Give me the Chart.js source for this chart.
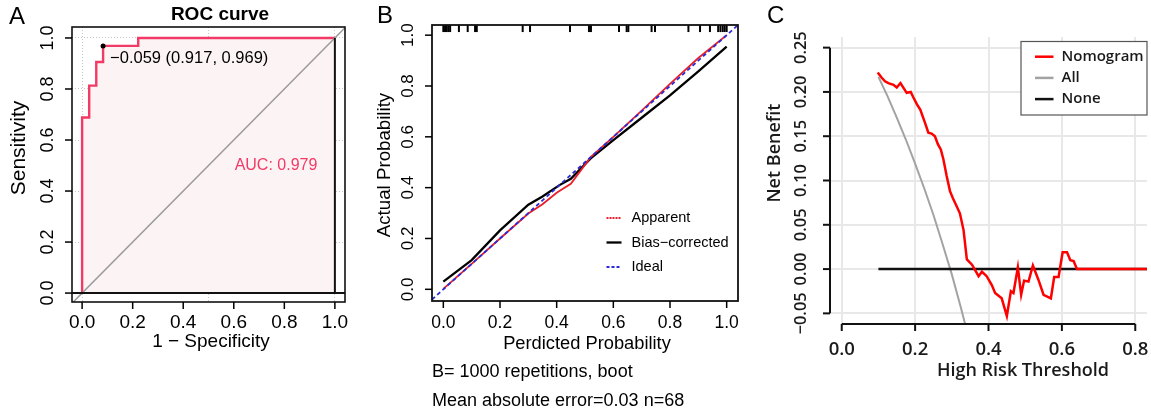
<!DOCTYPE html>
<html>
<head>
<meta charset="utf-8">
<script src="https://cdn.jsdelivr.net/npm/chart.js@4.4.1/dist/chart.umd.min.js"></script>
<style>
  html, body { margin: 0; padding: 0; background: #fff; }
  #wrap { position: relative; width: 1151px; height: 414px; overflow: hidden; }
  canvas { position: absolute; top: 0; }
</style>
</head>
<body>
<div id="wrap">
  <canvas id="rocChart" width="370" height="414" style="left:0px"></canvas>
  <canvas id="calChart" width="390" height="414" style="left:370px"></canvas>
  <canvas id="dcaChart" width="391" height="414" style="left:760px"></canvas>
</div>
<script>
// ---- Panel A: curva ROC ----
const rocFpr = [0, 0, 0.028, 0.028, 0.056, 0.056, 0.083, 0.083, 0.222, 0.222, 1];
const rocTpr = [0, 0.688, 0.688, 0.813, 0.813, 0.906, 0.906, 0.969, 0.969, 1, 1];
const rocTicks = [0, 0.2, 0.4, 0.6, 0.8, 1.0];
const rocBest = [0.083, 0.969];
const rocBestLabel = "\u22120.059 (0.917, 0.969)";
const rocAucLabel = "AUC: 0.979";

// ---- Panel B: calibracion ----
const calTicks = [0, 0.2, 0.4, 0.6, 0.8, 1.0];
const apparentX = [0, 0.1, 0.2, 0.3, 0.35, 0.4, 0.45, 0.48, 0.52, 0.6, 0.7, 0.8, 0.9, 1.0];
const apparentY = [0.002, 0.1, 0.2, 0.298, 0.335, 0.38, 0.415, 0.46, 0.52, 0.6, 0.703, 0.808, 0.91, 1.0];
const biasX = [0, 0.1, 0.2, 0.3, 0.35, 0.41, 0.45, 0.52, 0.6, 0.7, 0.8, 0.9, 1.0];
const biasY = [0.03, 0.115, 0.232, 0.333, 0.365, 0.41, 0.435, 0.515, 0.587, 0.675, 0.763, 0.858, 0.955];
const rugX = [0, 0.006, 0.012, 0.018, 0.024, 0.055, 0.086, 0.112, 0.118, 0.28, 0.306, 0.447, 0.514, 0.521,
              0.62, 0.647, 0.653, 0.735, 0.747, 0.865, 0.906, 0.941, 0.97, 0.978, 0.986, 0.993, 1.0];
const calNotes = ["B= 1000 repetitions, boot", "Mean absolute error=0.03 n=68"];

// ---- Panel C: curva de decision ----
const dcaXTicks = [0, 0.2, 0.4, 0.6, 0.8];
const dcaYTicks = [-0.05, 0, 0.05, 0.10, 0.15, 0.20, 0.25];
const nomoX = [0.098, 0.109, 0.118, 0.127, 0.141, 0.150, 0.160, 0.177, 0.188, 0.195, 0.205, 0.214, 0.227,
               0.236, 0.245, 0.254, 0.262, 0.270, 0.277, 0.286, 0.295, 0.303, 0.311, 0.322, 0.332, 0.341,
               0.355, 0.373, 0.382, 0.395, 0.409, 0.418, 0.436, 0.450, 0.461, 0.468, 0.480, 0.489, 0.497,
               0.509, 0.521, 0.536, 0.550, 0.570, 0.579, 0.591, 0.602, 0.614, 0.623, 0.632, 0.641, 0.840];
const nomoY = [0.222, 0.216, 0.212, 0.210, 0.208, 0.205, 0.210, 0.199, 0.200, 0.194, 0.186, 0.180, 0.165,
               0.154, 0.153, 0.150, 0.141, 0.135, 0.124, 0.105, 0.088, 0.080, 0.073, 0.063, 0.044, 0.011,
               0.005, -0.008, -0.003, -0.008, -0.018, -0.027, -0.033, -0.053, -0.025, -0.027, 0.002, -0.029,
               -0.013, -0.014, 0.004, -0.012, -0.029, -0.033, -0.009, -0.009, 0.019, 0.019, 0.010, 0.009, 0, 0];
const allX = [0.1, 0.125, 0.15, 0.175, 0.2, 0.225, 0.25, 0.275, 0.3, 0.325, 0.35];
const allY = [0.217, 0.195, 0.171, 0.146, 0.119, 0.091, 0.061, 0.028, -0.006, -0.044, -0.084];
const noneX = [0.1, 0.84];
const noneY = [0, 0];

const ARIAL = '"Liberation Sans", Arial, Helvetica, sans-serif';
const MYRIAD = '"Open Sans", "Noto Sans", sans-serif';

function pares(xs, ys) {
  return xs.map((x, i) => ({ x: x, y: ys[i] }));
}

function texto(ctx, s, x, y, font, color, align, base, rot) {
  ctx.save();
  ctx.font = font;
  ctx.fillStyle = color || "#000";
  ctx.textAlign = align || "center";
  ctx.textBaseline = base || "middle";
  ctx.translate(x, y);
  if (rot) ctx.rotate(rot);
  ctx.fillText(s, 0, 0);
  ctx.restore();
}

function linea(ctx, x1, y1, x2, y2, w, color) {
  ctx.save();
  ctx.strokeStyle = color || "#000";
  ctx.lineWidth = w || 1;
  ctx.beginPath();
  ctx.moveTo(x1, y1);
  ctx.lineTo(x2, y2);
  ctx.stroke();
  ctx.restore();
}

// eje lineal sin etiquetas (las dibuja el plugin), con la rejilla en valores fijos
function eje(min, max, gridVals, grid) {
  return {
    type: "linear",
    min: min,
    max: max,
    afterBuildTicks: (s) => { s.ticks = gridVals.map((v) => ({ value: v })); },
    ticks: { display: false },
    grid: grid ? Object.assign({ drawTicks: false }, grid) : { display: false, drawTicks: false },
    border: grid && grid.dash ? { display: false, dash: grid.dash } : { display: false }
  };
}

function baseOpts(pad, scales) {
  return {
    responsive: false,
    animation: false,
    events: [],
    layout: { padding: pad },
    plugins: { legend: { display: false }, tooltip: { enabled: false }, filler: { drawTime: "beforeDatasetsDraw" } },
    elements: { point: { radius: 0 }, line: { tension: 0 } },
    scales: scales
  };
}

// ---------- A ----------
new Chart(document.getElementById("rocChart"), {
  type: "scatter",
  data: {
    datasets: [
      { data: [{ x: rocBest[0], y: rocBest[1] }], pointRadius: 2.5, pointBackgroundColor: "#000", pointBorderWidth: 0, order: 0 },
      { data: [{ x: -0.04, y: 0 }, { x: 1.04, y: 0 }], showLine: true, borderColor: "#111", borderWidth: 2, order: 1 },
      { data: [{ x: 1, y: 0 }, { x: 1, y: 1 }], showLine: true, borderColor: "#111", borderWidth: 2, order: 1 },
      { data: [{ x: -0.04, y: -0.04 }, { x: 1.04, y: 1.04 }], showLine: true, borderColor: "#9a9a9a", borderWidth: 1.5, order: 2 },
      { data: pares(rocFpr, rocTpr), showLine: true, borderColor: "#f23a66", borderWidth: 2.4, fill: "origin",
        backgroundColor: "#fcf3f4", order: 3 }
    ]
  },
  options: baseOpts({ left: 72, right: 25, top: 27, bottom: 112 }, {
    x: eje(-0.04, 1.04, [0, 0.5, 1.0], { color: "#c4c4c4", lineWidth: 1, dash: [1, 2] }),
    y: eje(-0.035, 1.043, rocTicks, { color: "#c4c4c4", lineWidth: 1, dash: [1, 2] })
  }),
  plugins: [{
    id: "rocDeco",
    afterDraw(chart) {
      const ctx = chart.ctx, a = chart.chartArea, sx = chart.scales.x, sy = chart.scales.y;
      ctx.save();
      ctx.strokeStyle = "#111";
      ctx.lineWidth = 1.6;
      ctx.strokeRect(a.left, a.top, a.right - a.left, a.bottom - a.top);
      ctx.restore();
      rocTicks.forEach((v) => {
        const px = sx.getPixelForValue(v);
        linea(ctx, px, a.bottom, px, a.bottom + 7, 1.5);
        texto(ctx, v.toFixed(1), px, 328, "19px " + ARIAL, "#000", "center", "alphabetic");
        const py = sy.getPixelForValue(v);
        linea(ctx, a.left - 7, py, a.left, py, 1.5);
        texto(ctx, v.toFixed(1), 48, py, "18px " + ARIAL, "#000", "center", "middle", -Math.PI / 2);
      });
      texto(ctx, "1 \u2212 Specificity", 211, 347, "19px " + ARIAL, "#000", "center", "alphabetic");
      texto(ctx, "Sensitivity", 19, 148, "21px " + ARIAL, "#000", "center", "middle", -Math.PI / 2);
      texto(ctx, "ROC curve", 220, 15, "bold 19px " + ARIAL, "#000", "center", "middle");
      texto(ctx, "A", 9, 17, "24px " + ARIAL, "#000", "left", "middle");
      const bx = sx.getPixelForValue(rocBest[0]), by = sy.getPixelForValue(rocBest[1]);
      texto(ctx, rocBestLabel, bx + 7, by + 13, "16.5px " + ARIAL, "#000", "left", "middle");
      texto(ctx, rocAucLabel, sx.getPixelForValue(0.767), sy.getPixelForValue(0.5), "16px " + ARIAL, "#f23a66", "center", "middle");
    }
  }]
});

// ---------- B ----------
new Chart(document.getElementById("calChart"), {
  type: "scatter",
  data: {
    datasets: [
      { data: [{ x: -0.04, y: -0.04 }, { x: 1.04, y: 1.04 }], showLine: true, borderColor: "#2b2bd8", borderWidth: 1.8,
        borderDash: [4, 3], order: 0 },
      { data: pares(apparentX, apparentY), showLine: true, borderColor: "#e8202c", borderWidth: 1.8, order: 1 },
      { data: pares(biasX, biasY), showLine: true, borderColor: "#000", borderWidth: 2.3, order: 2 },
      { data: rugX.map((x) => ({ x: x, y: 1.026 })), pointStyle: "line", rotation: 90, pointRadius: 3.5,
        borderColor: "#000", pointBorderWidth: 2, order: 3 }
    ]
  },
  options: baseOpts({ left: 62, right: 22, top: 25, bottom: 113 }, {
    x: eje(-0.04, 1.04, calTicks, null),
    y: eje(-0.046, 1.04, calTicks, null)
  }),
  plugins: [{
    id: "calDeco",
    afterDraw(chart) {
      const ctx = chart.ctx, a = chart.chartArea, sx = chart.scales.x, sy = chart.scales.y;
      ctx.save();
      ctx.strokeStyle = "#111";
      ctx.lineWidth = 1.8;
      ctx.strokeRect(a.left, a.top, a.right - a.left, a.bottom - a.top);
      ctx.restore();
      calTicks.forEach((v) => {
        const px = sx.getPixelForValue(v);
        linea(ctx, px, a.bottom, px, a.bottom + 7, 1.5);
        texto(ctx, v.toFixed(1), px, 328, "17.5px " + ARIAL, "#000", "center", "alphabetic");
        const py = sy.getPixelForValue(v);
        linea(ctx, a.left - 7, py, a.left, py, 1.5);
        texto(ctx, v.toFixed(1), 38, py, "17px " + ARIAL, "#000", "center", "middle", -Math.PI / 2);
      });
      texto(ctx, "Perdicted Probability", 217, 349, "18.3px " + ARIAL, "#000", "center", "alphabetic");
      texto(ctx, "Actual Probability", 15, 165, "18.7px " + ARIAL, "#000", "center", "middle", -Math.PI / 2);
      texto(ctx, "B", 7, 16, "24px " + ARIAL, "#000", "left", "middle");
      texto(ctx, calNotes[0], 62, 377, "18px " + ARIAL, "#000", "left", "alphabetic");
      texto(ctx, calNotes[1], 62, 406, "18px " + ARIAL, "#000", "left", "alphabetic");
      // leyenda
      const ley = [["Apparent", "#e8202c", 1.8, [2, 1]], ["Bias\u2212corrected", "#000", 2.3, []], ["Ideal", "#2b2bd8", 1.8, [3, 2]]];
      ley.forEach((l, i) => {
        const y = 218 + i * 24.5;
        ctx.save();
        ctx.setLineDash(l[3]);
        linea(ctx, 236.5, y, 251.5, y, l[2], l[1]);
        ctx.restore();
        texto(ctx, l[0], 261.5, y, "14.5px " + ARIAL, "#000", "left", "middle");
      });
    }
  }]
});

// ---------- C ----------
new Chart(document.getElementById("dcaChart"), {
  type: "scatter",
  data: {
    datasets: [
      { data: pares(nomoX, nomoY), showLine: true, borderColor: "#ff0000", borderWidth: 2.5, order: 0 },
      { data: pares(noneX, noneY), showLine: true, borderColor: "#111", borderWidth: 2.5, order: 1 },
      { data: pares(allX, allY), showLine: true, borderColor: "#a3a3a3", borderWidth: 2, order: 2 }
    ]
  },
  options: baseOpts({ left: 70, right: 4, top: 37, bottom: 90 }, {
    x: eje(-0.032, 0.832, dcaXTicks, { color: "#e8e8e8", lineWidth: 2 }),
    y: eje(-0.062, 0.262, dcaYTicks, { color: "#e8e8e8", lineWidth: 2 })
  }),
  plugins: [{
    id: "dcaDeco",
    afterDraw(chart) {
      const ctx = chart.ctx, a = chart.chartArea, sx = chart.scales.x, sy = chart.scales.y;
      // eje y
      const yTop = sy.getPixelForValue(0.25), yBot = sy.getPixelForValue(-0.05);
      linea(ctx, a.left, yTop, a.left, yBot, 2, "#111");
      dcaYTicks.forEach((v) => {
        const py = sy.getPixelForValue(v);
        linea(ctx, a.left - 7, py, a.left, py, 2, "#111");
        const s = (v < 0 ? "\u2212" : "") + Math.abs(v).toFixed(2);
        texto(ctx, s, 41.5, py, "600 16.5px " + MYRIAD, "#1a1a1a", "center", "middle", -Math.PI / 2);
      });
      // eje x
      const xL = sx.getPixelForValue(0), xR = sx.getPixelForValue(0.8);
      linea(ctx, xL, a.bottom, xR, a.bottom, 2, "#111");
      dcaXTicks.forEach((v) => {
        const px = sx.getPixelForValue(v);
        linea(ctx, px, a.bottom, px, a.bottom + 7, 2, "#111");
        texto(ctx, v.toFixed(1), px, 355, "600 18.5px " + MYRIAD, "#1a1a1a", "center", "alphabetic");
      });
      texto(ctx, "High Risk Threshold", 263, 376, "600 18px " + MYRIAD, "#1a1a1a", "center", "alphabetic");
      texto(ctx, "Net Benefit", 14.5, 153, "600 18px " + MYRIAD, "#1a1a1a", "center", "middle", -Math.PI / 2);
      texto(ctx, "C", 7, 16, "24px " + ARIAL, "#000", "left", "middle");
      // leyenda
      ctx.save();
      ctx.fillStyle = "#fff";
      ctx.fillRect(261, 41.5, 126, 73.5);
      ctx.strokeStyle = "#555";
      ctx.lineWidth = 1.2;
      ctx.strokeRect(261, 41.5, 126, 73.5);
      ctx.restore();
      const ley = [["Nomogram", "#ff0000"], ["All", "#a3a3a3"], ["None", "#111"]];
      ley.forEach((l, i) => {
        const y = 56.7 + i * 21.2;
        linea(ctx, 275, y, 293.5, y, 2.5, l[1]);
        texto(ctx, l[0], 301.5, y, "600 15px " + MYRIAD, "#1a1a1a", "left", "middle");
      });
    }
  }]
});
</script>
</body>
</html>
